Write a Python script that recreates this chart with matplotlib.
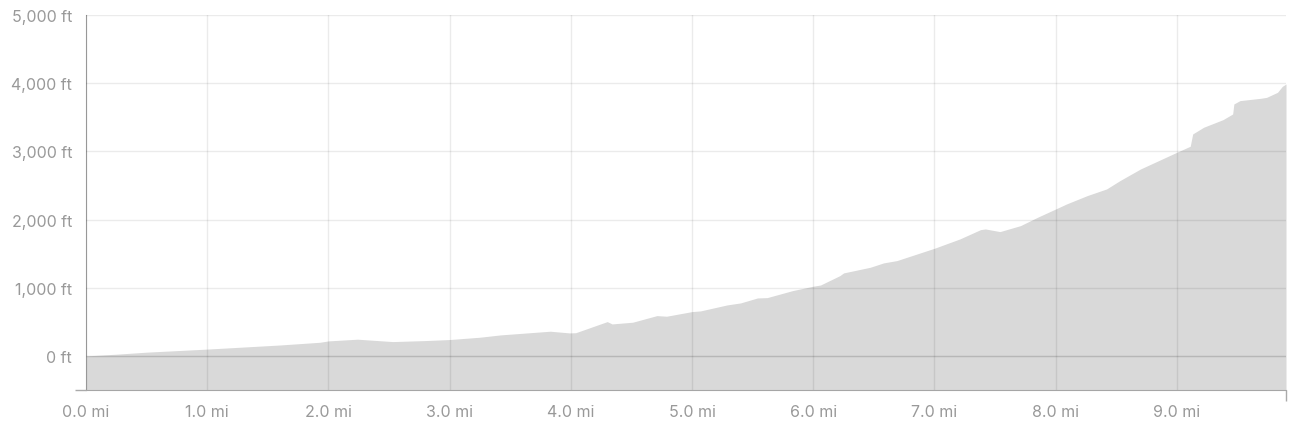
import matplotlib.pyplot as plt
from matplotlib.ticker import FuncFormatter

# distance (mi) and elevation (ft)
miles = [0.00, 0.25, 0.50, 0.78, 1.00, 1.30, 1.60, 1.93, 2.00, 2.24, 2.53,
         2.80, 3.00, 3.25, 3.42, 3.83, 3.99, 4.04, 4.30, 4.34, 4.51, 4.71,
         4.79, 5.00, 5.07, 5.29, 5.40, 5.54, 5.62, 5.83, 6.00, 6.06, 6.22,
         6.25, 6.47, 6.58, 6.69, 7.00, 7.21, 7.38, 7.42, 7.54, 7.71, 7.85,
         8.00, 8.09, 8.26, 8.42, 8.53, 8.70, 9.00, 9.11, 9.13, 9.22, 9.38,
         9.46, 9.47, 9.52, 9.69, 9.74, 9.83, 9.87, 9.90]
elev_ft = [0, 25, 55, 80, 100, 130, 160, 200, 220, 245, 210,
           225, 240, 274, 308, 362, 337, 340, 503, 469, 494, 591,
           582, 650, 660, 748, 777, 850, 855, 958, 1022, 1040, 1178,
           1217, 1300, 1364, 1398, 1579, 1716, 1852, 1862, 1823, 1911, 2033,
           2155, 2229, 2351, 2449, 2571, 2742, 2987, 3075, 3255, 3353, 3465,
           3548, 3695, 3744, 3778, 3792, 3866, 3954, 3988]

x_ticks = [0, 1, 2, 3, 4, 5, 6, 7, 8, 9]
y_ticks = [0, 1000, 2000, 3000, 4000, 5000]

plt.rcParams['font.family'] = ['Inter', 'DejaVu Sans']

fig = plt.figure(figsize=(12.91, 4.31), dpi=100)
ax = fig.add_axes([86 / 1291, 40 / 431, 1200 / 1291, 375 / 431])

ax.fill_between(miles, elev_ft, -500, color='#d9d9d9', lw=0, zorder=1)

ax.set_xlim(0, 9.90)
ax.set_ylim(-500, 5000)
ax.set_xticks(x_ticks)
ax.set_yticks(y_ticks)
ax.xaxis.set_major_formatter(FuncFormatter(lambda v, p: f'{v:.1f} mi'))
ax.yaxis.set_major_formatter(FuncFormatter(lambda v, p: f'{v:,.0f} ft'))

ax.grid(True, color='black', alpha=0.08, lw=1, zorder=2)
ax.set_axisbelow(False)
ax.axhline(0, color='black', alpha=0.08, lw=1, zorder=2)

ax.tick_params(which='major', length=0, labelsize=11.5, labelcolor='#999999')
ax.tick_params(axis='y', which='major', pad=10)
ax.tick_params(axis='x', which='major', pad=10)
ax.set_xticks([0, 9.90], minor=True)
ax.set_yticks([-500, 5000], minor=True)
ax.tick_params(which='minor', length=8, color='#aaaaaa', width=1)

for side in ['top', 'right']:
    ax.spines[side].set_visible(False)
ax.spines['left'].set_color('#a6a6a6')
ax.spines['bottom'].set_color('#a6a6a6')

fig.savefig('out.png', dpi=100, facecolor='white')
